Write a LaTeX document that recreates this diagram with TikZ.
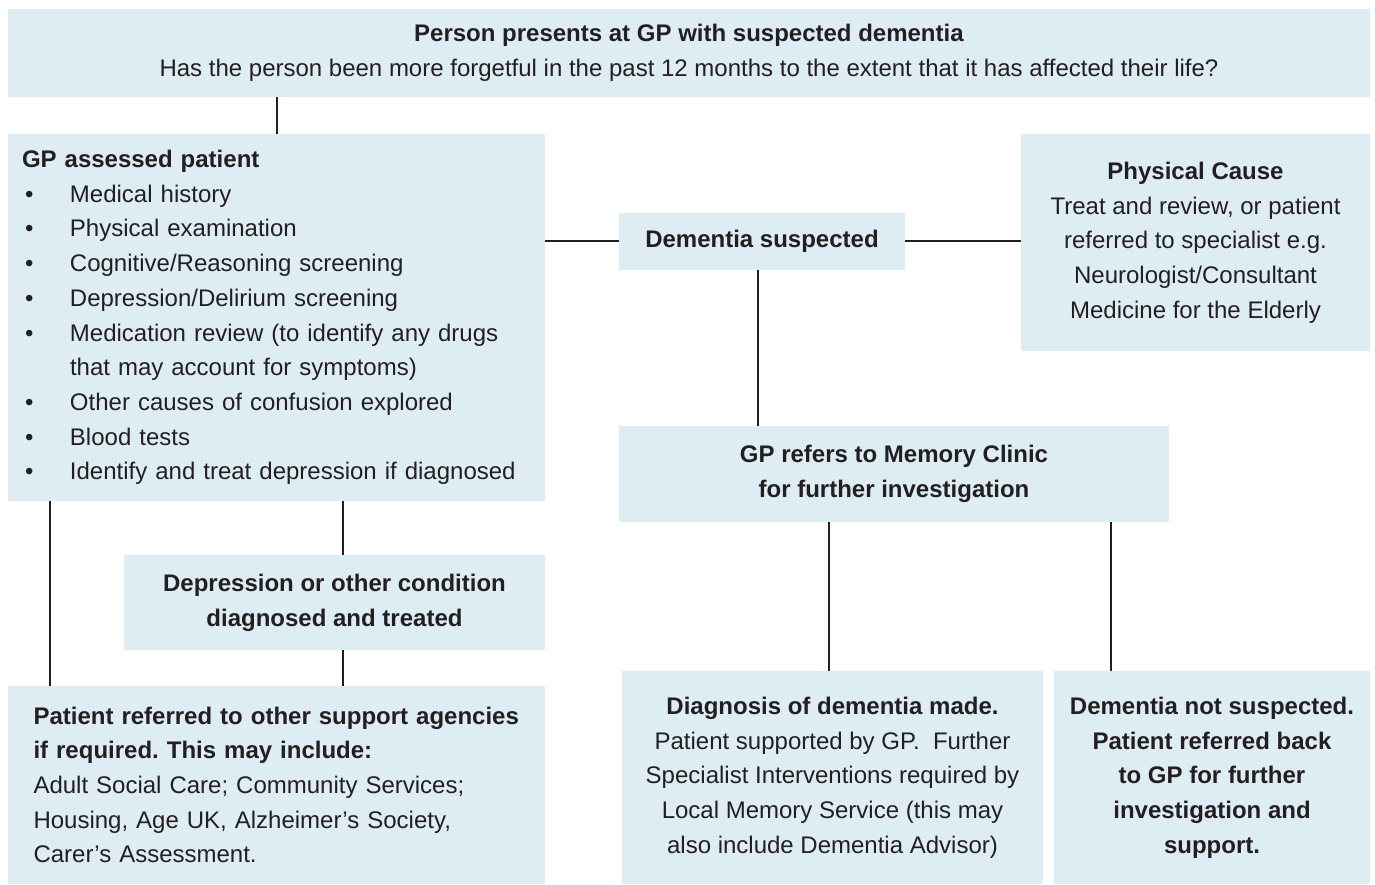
\documentclass[tikz,border=0pt]{standalone}
\usepackage{fontspec}
\setmainfont{Liberation Sans}
\frenchspacing
\definecolor{boxblue}{HTML}{DEECF4}
\definecolor{inkgrey}{HTML}{231F20}
\newcommand{\bitem}[1]{\hspace*{3pt}\makebox[45pt][l]{\textbullet}#1}
\begin{document}
\begin{tikzpicture}[x=1pt,y=-1pt]
\tikzstyle{every node}+=[inner sep=0pt, text=inkgrey, font=\fontsize{24}{34.7}\selectfont]
\tikzstyle{box}=[fill=boxblue, align=center]
\tikzstyle{link}=[draw=inkgrey, line width=2pt]
\useasboundingbox (0,0) rectangle (1375,885);
\node [box, minimum width=1362, minimum height=88] (top) at (689,53) {\textbf{Person presents at GP with suspected dementia}\\Has the person been more forgetful in the past 12 months to the extent that it has affected their life?};
\node [box, align=left, text width=509pt, minimum width=537, minimum height=367] (gpa) at (276.5,317.5) {\textbf{GP assessed patient}\\
\bitem{Medical history}\\
\bitem{Physical examination}\\
\bitem{Cognitive/Reasoning screening}\\
\bitem{Depression/Delirium screening}\\
\bitem{Medication review (to identify any drugs}\\
\hspace*{48pt}that may account for symptoms)\\
\bitem{Other causes of confusion explored}\\
\bitem{Blood tests}\\
\bitem{Identify and treat depression if diagnosed}};
\node [box, minimum width=286, minimum height=57] (dem) at (762,241.5) {\textbf{Dementia suspected}};
\node [box, minimum width=349, minimum height=217] (phys) at (1195.5,242.5) {\textbf{Physical Cause}\\Treat and review, or patient\\referred to specialist e.g.\\Neurologist/Consultant\\Medicine for the Elderly};
\node [box, minimum width=550, minimum height=96] (memc) at (894,474) {\textbf{GP refers to Memory Clinic}\\\textbf{for further investigation}};
\node [box, minimum width=421, minimum height=95] (dep) at (334.5,602.5) {\textbf{Depression or other condition}\\\textbf{diagnosed and treated}};
\node [box, align=left, text width=486pt, minimum width=537, minimum height=198] (ref) at (276.5,785) {\textbf{Patient referred to other support agencies}\\
\textbf{if required. This may include:}\\
Adult Social Care; Community Services;\\
Housing, Age UK, Alzheimer’s Society,\\
Carer’s Assessment.};
\node [box, minimum width=421, minimum height=213] (diag) at (832.5,777.5) {\textbf{Diagnosis of dementia made.}\\Patient supported by GP.\ \ Further\\Specialist Interventions required by\\Local Memory Service (this may\\also include Dementia Advisor)};
\node [box, font=\fontsize{24}{34.7}\selectfont\bfseries, minimum width=316, minimum height=213] (nots) at (1212,777.5) {Dementia not suspected.\\Patient referred back\\to GP for further\\investigation and\\support.};
\draw [link] (gpa.north |- top.south) -- (gpa.north);
\draw [link] (gpa.east |- dem.west) -- (dem.west);
\draw [link] (dem.east) -- (phys.west |- dem.east);
\draw [link] ([xshift=-4pt]dem.south) -- ([xshift=-4pt]dem.south |- memc.north);
\draw [link] ([xshift=42pt]gpa.south west) -- ([xshift=42pt]ref.north west);
\draw [link] ([xshift=219pt]dep.north west |- gpa.south) -- ([xshift=219pt]dep.north west);
\draw [link] ([xshift=219pt]dep.south west) -- ([xshift=219pt]dep.south west |- ref.north);
\draw [link] ([xshift=-3.5pt]diag.north |- memc.south) -- ([xshift=-3.5pt]diag.north);
\draw [link] ([xshift=57pt]nots.north west |- memc.south) -- ([xshift=57pt]nots.north west);
\end{tikzpicture}
\end{document}
